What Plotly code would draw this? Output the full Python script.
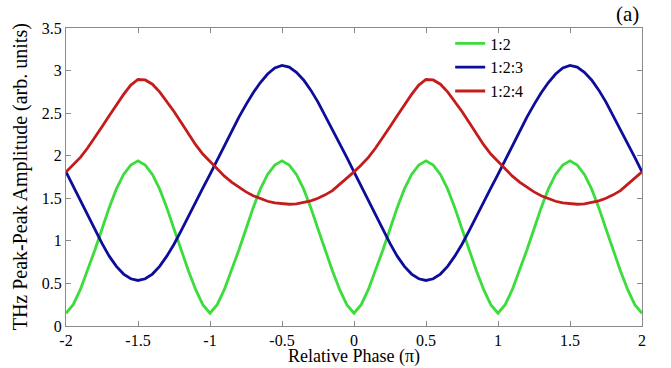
import plotly.graph_objects as go

# Relative phase (units of pi), sampled every 0.05
phase = [round(-2 + 0.05 * i, 2) for i in range(81)]

# 1:2 (green)
amp_12 = [
    0.15, 0.25, 0.43, 0.65, 0.89, 1.14, 1.39, 1.61, 1.78, 1.89,
    1.94, 1.89, 1.78, 1.61, 1.39, 1.14, 0.89, 0.65, 0.43, 0.25,
    0.15, 0.25, 0.43, 0.65, 0.89, 1.14, 1.39, 1.61, 1.78, 1.89,
    1.94, 1.89, 1.78, 1.61, 1.39, 1.14, 0.89, 0.65, 0.43, 0.25,
    0.15, 0.25, 0.43, 0.65, 0.89, 1.14, 1.39, 1.61, 1.78, 1.89,
    1.94, 1.89, 1.78, 1.61, 1.39, 1.14, 0.89, 0.65, 0.43, 0.25,
    0.15, 0.25, 0.43, 0.65, 0.89, 1.14, 1.39, 1.61, 1.78, 1.89,
    1.94, 1.89, 1.78, 1.61, 1.39, 1.14, 0.89, 0.65, 0.43, 0.25,
    0.15,
]

# 1:2:3 (blue)
amp_123 = [
    1.81, 1.64, 1.47, 1.30, 1.13, 0.97, 0.82, 0.70, 0.61, 0.555,
    0.535, 0.555, 0.61, 0.70, 0.82, 0.96, 1.12, 1.29, 1.46, 1.62,
    1.78, 1.95, 2.12, 2.29, 2.45, 2.60, 2.74, 2.86, 2.96, 3.03,
    3.06, 3.04, 2.98, 2.89, 2.77, 2.63, 2.47, 2.31, 2.15, 1.98,
    1.81, 1.64, 1.47, 1.30, 1.13, 0.97, 0.82, 0.70, 0.61, 0.555,
    0.535, 0.555, 0.61, 0.70, 0.82, 0.96, 1.12, 1.29, 1.46, 1.62,
    1.78, 1.95, 2.12, 2.29, 2.45, 2.60, 2.74, 2.86, 2.96, 3.03,
    3.06, 3.04, 2.98, 2.89, 2.77, 2.63, 2.47, 2.31, 2.15, 1.98,
    1.81,
]

# 1:2:4 (red)
amp_124 = [
    1.81, 1.89, 1.98, 2.09, 2.21, 2.34, 2.47, 2.60, 2.72, 2.83,
    2.895, 2.89, 2.84, 2.75, 2.64, 2.52, 2.39, 2.26, 2.13, 2.02,
    1.93, 1.84, 1.76, 1.69, 1.63, 1.575, 1.53, 1.495, 1.465, 1.445,
    1.435, 1.43, 1.435, 1.45, 1.47, 1.50, 1.54, 1.59, 1.66, 1.73,
    1.81, 1.89, 1.98, 2.09, 2.21, 2.34, 2.47, 2.60, 2.72, 2.83,
    2.895, 2.89, 2.84, 2.75, 2.64, 2.52, 2.39, 2.26, 2.13, 2.02,
    1.93, 1.84, 1.76, 1.69, 1.63, 1.575, 1.53, 1.495, 1.465, 1.445,
    1.435, 1.43, 1.435, 1.45, 1.47, 1.50, 1.54, 1.59, 1.66, 1.73,
    1.81,
]

x_tickvals = [-2, -1.5, -1, -0.5, 0, 0.5, 1, 1.5, 2]
x_ticktext = ["-2", "-1.5", "-1", "-0.5", "0", "0.5", "1", "1.5", "2"]
y_tickvals = [0, 0.5, 1, 1.5, 2, 2.5, 3, 3.5]
y_ticktext = ["0", "0.5", "1", "1.5", "2", "2.5", "3", "3.5"]

series = [
    ("1:2", amp_12, "#3cdc3c"),
    ("1:2:3", amp_123, "#0d0d9a"),
    ("1:2:4", amp_124, "#c41c1c"),
]

FONT = "Liberation Serif"
AXC = "#8a8a8a"

fig = go.Figure()
for name, vals, col in series:
    fig.add_trace(go.Scatter(
        x=phase, y=vals, mode="lines", name=name,
        line=dict(color=col, width=2.8),
    ))

axis_common = dict(
    showline=True, linecolor=AXC, linewidth=1, mirror="ticks",
    ticks="inside", ticklen=5, tickcolor=AXC, tickwidth=1,
    showgrid=False, zeroline=False, automargin=False,
    tickfont=dict(family=FONT, size=16, color="black"),
)

fig.update_layout(
    width=671, height=368,
    margin=dict(l=66, r=29, t=28, b=42, autoexpand=False),
    paper_bgcolor="white", plot_bgcolor="white",
    font=dict(family=FONT, color="black"),
    xaxis=dict(range=[-2, 2], tickvals=x_tickvals, ticktext=x_ticktext, **axis_common),
    yaxis=dict(range=[0, 3.5], tickvals=y_tickvals, ticktext=y_ticktext, **axis_common),
    legend=dict(
        x=0.667, y=1.005, xanchor="left", yanchor="top",
        bgcolor="rgba(0,0,0,0)", borderwidth=0,
        font=dict(family=FONT, size=16, color="black"),
        tracegroupgap=0, itemwidth=30,
    ),
    showlegend=True,
    annotations=[
        dict(text="(a)", xref="paper", yref="paper", x=0.974, y=1.047,
             xanchor="center", yanchor="middle", showarrow=False,
             font=dict(family=FONT, size=21, color="black")),
        dict(text="Relative Phase (\u03c0)", xref="paper", yref="paper", x=0.5, y=-0.1007,
             xanchor="center", yanchor="middle", showarrow=False,
             font=dict(family=FONT, size=18, color="black")),
        dict(text="THz Peak-Peak Amplitude (arb. units)", xref="paper", yref="paper",
             x=-0.080, y=0.502, textangle=-90,
             xanchor="center", yanchor="middle", showarrow=False,
             font=dict(family=FONT, size=20, color="black")),
    ],
)

# remove the browser's default 8px body margin so the figure fills the window
fig.write_html(
    "out.html",
    config={"displayModeBar": False},
    post_script="document.body.style.margin='0';",
)
